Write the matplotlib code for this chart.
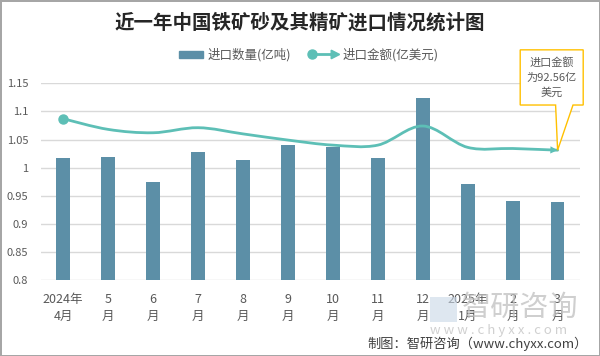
import numpy as np
import matplotlib
matplotlib.use('agg')
import matplotlib.pyplot as plt
from matplotlib.path import Path
from matplotlib.patches import PathPatch, Rectangle, Polygon
from matplotlib.lines import Line2D

plt.rcParams['font.family'] = ['Noto Sans CJK SC', 'DejaVu Sans']

months = ['2024年\n4月', '5\n月', '6\n月', '7\n月', '8\n月', '9\n月', '10\n月',
          '11\n月', '12\n月', '2025年\n1月', '2\n月', '3\n月']
# 进口数量(亿吨)
qty = [1.017, 1.019, 0.974, 1.028, 1.013, 1.040, 1.037, 1.017, 1.124, 0.971, 0.941, 0.939]
amount = [1.087, 1.068, 1.062, 1.071, 1.060, 1.049, 1.040, 1.040, 1.074, 1.036, 1.034, 1.031]
yticks = [0.8, 0.85, 0.9, 0.95, 1.0, 1.05, 1.1, 1.15]
last_label = '进口金额\n为92.56亿\n美元'

bar_color = '#5C8FA7'
line_color = '#5DBFB6'
grid_color = '#D9D9D9'
text_color = '#595959'

fig = plt.figure(figsize=(6, 3.56), dpi=100)
fig.patch.set_edgecolor('#A6A6A6')
fig.patch.set_linewidth(2)
ax = fig.add_axes([0.0678, 0.2135, 0.899, 0.5525])

x = np.arange(len(months))
ax.bar(x, qty, width=0.305, color=bar_color, zorder=2)

# smooth line (Catmull-Rom style bezier through the points)
pts = np.column_stack([x, amount])
verts = [pts[0]]
codes = [Path.MOVETO]
n = len(pts)
for i in range(n - 1):
    p0 = pts[max(i - 1, 0)]
    p1 = pts[i]
    p2 = pts[i + 1]
    p3 = pts[min(i + 2, n - 1)]
    c1 = p1 + (p2 - p0) / 6.0
    c2 = p2 - (p3 - p1) / 6.0
    verts += [c1, c2, p2]
    codes += [Path.CURVE4] * 3
ax.add_patch(PathPatch(Path(verts, codes), fill=False, edgecolor=line_color,
                       lw=2.0, zorder=3, capstyle='round'))
ax.plot(x[0], amount[0], 'o', color=line_color, ms=6.5, zorder=4)
tail = pts[-1] - (pts[-1] - pts[-2]) / 6.0
ax.annotate('', xy=(x[-1], amount[-1]), xytext=(tail[0], tail[1]),
            arrowprops=dict(arrowstyle='-|>', color=line_color, lw=0,
                            mutation_scale=13, shrinkA=0, shrinkB=0), zorder=4)

ax.set_xlim(-0.5, len(months) - 0.5)
ax.set_ylim(0.8, 1.15)
ax.set_yticks(yticks)
ax.set_yticklabels(['%g' % v for v in yticks])
ax.set_xticks(x)
ax.set_xticklabels(months, linespacing=1.4)
ax.tick_params(axis='both', length=0, colors=text_color)
ax.tick_params(axis='y', labelsize=8, pad=9)
ax.tick_params(axis='x', labelsize=9, pad=9.5)
ax.grid(axis='y', color=grid_color, lw=1, zorder=0)
for s in ax.spines.values():
    s.set_visible(False)

# title
fig.text(0.5, 0.937, '近一年中国铁矿砂及其精矿进口情况统计图', ha='center', va='center',
         fontsize=14, fontweight='bold', color='#262626')

# legend drawn by hand
fig.patches.append(Rectangle((0.298, 0.838), 0.040, 0.02, transform=fig.transFigure,
                             color=bar_color, figure=fig))
fig.text(0.346, 0.846, '进口数量(亿吨)', ha='left', va='center', fontsize=9, color=text_color)
fig.lines.append(Line2D([0.520, 0.555], [0.847, 0.847], transform=fig.transFigure,
                        color=line_color, lw=2.0, figure=fig))
fig.lines.append(Line2D([0.520], [0.847], transform=fig.transFigure, marker='o', ms=6.5,
                        color=line_color, figure=fig))
fig.patches.append(Polygon([[0.552, 0.859], [0.566, 0.847], [0.552, 0.835]], closed=True,
                           transform=fig.transFigure, color=line_color, figure=fig))
fig.text(0.571, 0.846, '进口金额(亿美元)', ha='left', va='center', fontsize=9, color=text_color)

# callout on last point
fig.canvas.draw()
tip = fig.transFigure.inverted().transform(ax.transData.transform((x[-1], amount[-1])))
bx0, bx1, by0, by1 = 0.867, 0.972, 0.705, 0.860
fig.patches.append(Polygon([[bx0, by0], [0.926, by0], [tip[0], tip[1]], [0.955, by0],
                            [bx1, by0], [bx1, by1], [bx0, by1]], closed=True,
                           transform=fig.transFigure, facecolor='white',
                           edgecolor='#FFC000', lw=1, figure=fig, zorder=5))
fig.text((bx0 + bx1) / 2, (by0 + by1) / 2, last_label, ha='center', va='center',
         fontsize=8, color=text_color, linespacing=1.5, zorder=6)

# watermark and source
fig.patches.append(Rectangle((0.717, 0.0955), 0.045, 0.07, transform=fig.transFigure,
                             facecolor='#C9D7E6', alpha=0.6, figure=fig))
fig.text(0.770, 0.135, '智研咨询', ha='left', va='center', fontsize=21,
         color='#BFBFBF', alpha=0.75)
fig.text(0.717, 0.073, 'w w w . c h y x x . c o m', ha='left', va='center', fontsize=9.5,
         color='#C8C8C8', alpha=0.85)
fig.text(0.980, 0.034, '制图：智研咨询（www.chyxx.com）', ha='right', va='center',
         fontsize=9.5, color='#404040')

fig.savefig('out.png', dpi=100)
